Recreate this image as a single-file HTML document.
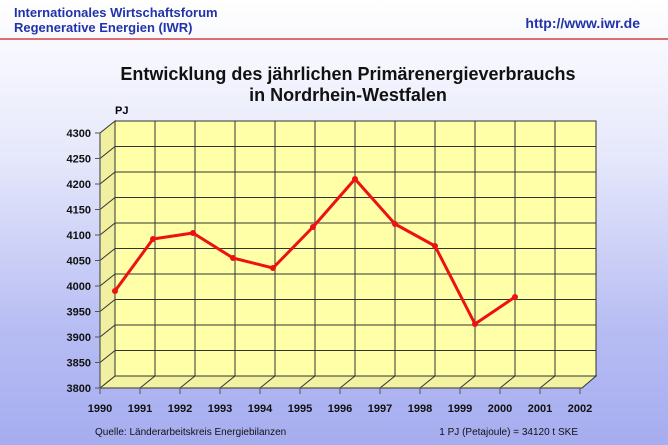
<!DOCTYPE html>
<html><head><meta charset="utf-8"><style>
body{margin:0;width:668px;height:445px;overflow:hidden;background:linear-gradient(to bottom,#ffffff 0%,#e6e8fb 35%,#b6bcf3 75%,#a6adf0 100%);font-family:"Liberation Sans",sans-serif;}
svg{position:absolute;left:0;top:0}
</style></head><body>
<svg width="668" height="445" xmlns="http://www.w3.org/2000/svg" font-family="Liberation Sans, sans-serif">
<text x="14" y="17" font-size="13" font-weight="bold" fill="#2233aa">Internationales Wirtschaftsforum</text>
<text x="14" y="32" font-size="13" font-weight="bold" fill="#2233aa">Regenerative Energien (IWR)</text>
<text x="640" y="28" font-size="14" font-weight="bold" fill="#2233aa" text-anchor="end">http://www.iwr.de</text>
<line x1="0" y1="39" x2="668" y2="39" stroke="#d04040" stroke-width="1.5"/>
<text x="348" y="80" font-size="18" font-weight="bold" fill="#111" text-anchor="middle">Entwicklung des jährlichen Primärenergieverbrauchs</text>
<text x="348" y="101" font-size="18" font-weight="bold" fill="#111" text-anchor="middle">in Nordrhein-Westfalen</text>
<text x="115" y="114" font-size="11" font-weight="bold">PJ</text>
<!-- back wall -->
<rect x="115" y="121" width="481" height="255" fill="#ffffa8" stroke="#333" stroke-width="1"/>
<!-- floor -->
<polygon points="100,388 115,376 596,376 582,388" fill="#f2f2a0" stroke="#333" stroke-width="1"/>
<!-- left side wall -->
<polygon points="100,133 115,121 115,376 100,388" fill="#f0f0a0" stroke="#333" stroke-width="1"/>
<g stroke="#333" stroke-width="1">
<line x1="115" y1="146.5" x2="596" y2="146.5"/><line x1="115" y1="172" x2="596" y2="172"/><line x1="115" y1="197.5" x2="596" y2="197.5"/><line x1="115" y1="223" x2="596" y2="223"/><line x1="115" y1="248.5" x2="596" y2="248.5"/><line x1="115" y1="274" x2="596" y2="274"/><line x1="115" y1="299.5" x2="596" y2="299.5"/><line x1="115" y1="325" x2="596" y2="325"/><line x1="115" y1="350.5" x2="596" y2="350.5"/>
<line x1="155" y1="121" x2="155" y2="376"/><line x1="195" y1="121" x2="195" y2="376"/><line x1="235" y1="121" x2="235" y2="376"/><line x1="275" y1="121" x2="275" y2="376"/><line x1="315" y1="121" x2="315" y2="376"/><line x1="355" y1="121" x2="355" y2="376"/><line x1="395" y1="121" x2="395" y2="376"/><line x1="435" y1="121" x2="435" y2="376"/><line x1="475" y1="121" x2="475" y2="376"/><line x1="515" y1="121" x2="515" y2="376"/><line x1="555" y1="121" x2="555" y2="376"/>
<line x1="140" y1="388" x2="155" y2="376"/><line x1="180" y1="388" x2="195" y2="376"/><line x1="220" y1="388" x2="235" y2="376"/><line x1="260" y1="388" x2="275" y2="376"/><line x1="300" y1="388" x2="315" y2="376"/><line x1="340" y1="388" x2="355" y2="376"/><line x1="380" y1="388" x2="395" y2="376"/><line x1="420" y1="388" x2="435" y2="376"/><line x1="460" y1="388" x2="475" y2="376"/><line x1="500" y1="388" x2="515" y2="376"/><line x1="540" y1="388" x2="555" y2="376"/>
<line x1="100" y1="158.5" x2="115" y2="146.5"/><line x1="100" y1="184" x2="115" y2="172"/><line x1="100" y1="209.5" x2="115" y2="197.5"/><line x1="100" y1="235" x2="115" y2="223"/><line x1="100" y1="260.5" x2="115" y2="248.5"/><line x1="100" y1="286" x2="115" y2="274"/><line x1="100" y1="311.5" x2="115" y2="299.5"/><line x1="100" y1="337" x2="115" y2="325"/><line x1="100" y1="362.5" x2="115" y2="350.5"/>
</g>
<g stroke="#555" stroke-width="1.2">
<line x1="100" y1="133" x2="100" y2="388"/><line x1="100" y1="388" x2="582" y2="388"/>
</g>
<g stroke="#555" stroke-width="1">
<line x1="95" y1="133" x2="100" y2="133"/><line x1="95" y1="158.5" x2="100" y2="158.5"/><line x1="95" y1="184" x2="100" y2="184"/><line x1="95" y1="209.5" x2="100" y2="209.5"/><line x1="95" y1="235" x2="100" y2="235"/><line x1="95" y1="260.5" x2="100" y2="260.5"/><line x1="95" y1="286" x2="100" y2="286"/><line x1="95" y1="311.5" x2="100" y2="311.5"/><line x1="95" y1="337" x2="100" y2="337"/><line x1="95" y1="362.5" x2="100" y2="362.5"/><line x1="95" y1="388" x2="100" y2="388"/>
<line x1="100" y1="388" x2="100" y2="394"/><line x1="140" y1="388" x2="140" y2="394"/><line x1="180" y1="388" x2="180" y2="394"/><line x1="220" y1="388" x2="220" y2="394"/><line x1="260" y1="388" x2="260" y2="394"/><line x1="300" y1="388" x2="300" y2="394"/><line x1="340" y1="388" x2="340" y2="394"/><line x1="380" y1="388" x2="380" y2="394"/><line x1="420" y1="388" x2="420" y2="394"/><line x1="460" y1="388" x2="460" y2="394"/><line x1="500" y1="388" x2="500" y2="394"/><line x1="540" y1="388" x2="540" y2="394"/><line x1="580" y1="388" x2="580" y2="394"/>
</g>
<g font-size="11" font-weight="bold" text-anchor="end" fill="#111">
<text x="91" y="137">4300</text><text x="91" y="162.5">4250</text><text x="91" y="188">4200</text><text x="91" y="213.5">4150</text><text x="91" y="239">4100</text><text x="91" y="264.5">4050</text><text x="91" y="290">4000</text><text x="91" y="315.5">3950</text><text x="91" y="341">3900</text><text x="91" y="366.5">3850</text><text x="91" y="392">3800</text>
</g>
<g font-size="11" font-weight="bold" text-anchor="middle" fill="#111">
<text x="100" y="412">1990</text><text x="140" y="412">1991</text><text x="180" y="412">1992</text><text x="220" y="412">1993</text><text x="260" y="412">1994</text><text x="300" y="412">1995</text><text x="340" y="412">1996</text><text x="380" y="412">1997</text><text x="420" y="412">1998</text><text x="460" y="412">1999</text><text x="500" y="412">2000</text><text x="540" y="412">2001</text><text x="580" y="412">2002</text>
</g>
<polyline points="115,291 153,239 193,233 233,258 273,268 313,227 355,179 395,224 435,246 475,324 515,297" fill="none" stroke="#ee1111" stroke-width="3" stroke-linejoin="round"/>
<g fill="#ee1111"><circle cx="115" cy="291" r="3"/><circle cx="153" cy="239" r="3"/><circle cx="193" cy="233" r="3"/><circle cx="233" cy="258" r="3"/><circle cx="273" cy="268" r="3"/><circle cx="313" cy="227" r="3"/><circle cx="355" cy="179" r="3"/><circle cx="395" cy="224" r="3"/><circle cx="435" cy="246" r="3"/><circle cx="475" cy="324" r="3"/><circle cx="515" cy="297" r="3"/></g>
<text x="95" y="435" font-size="10" fill="#111">Quelle: Länderarbeitskreis Energiebilanzen</text>
<text x="578" y="435" font-size="10" fill="#111" text-anchor="end">1 PJ (Petajoule) = 34120 t SKE</text>
</svg>
</body></html>
